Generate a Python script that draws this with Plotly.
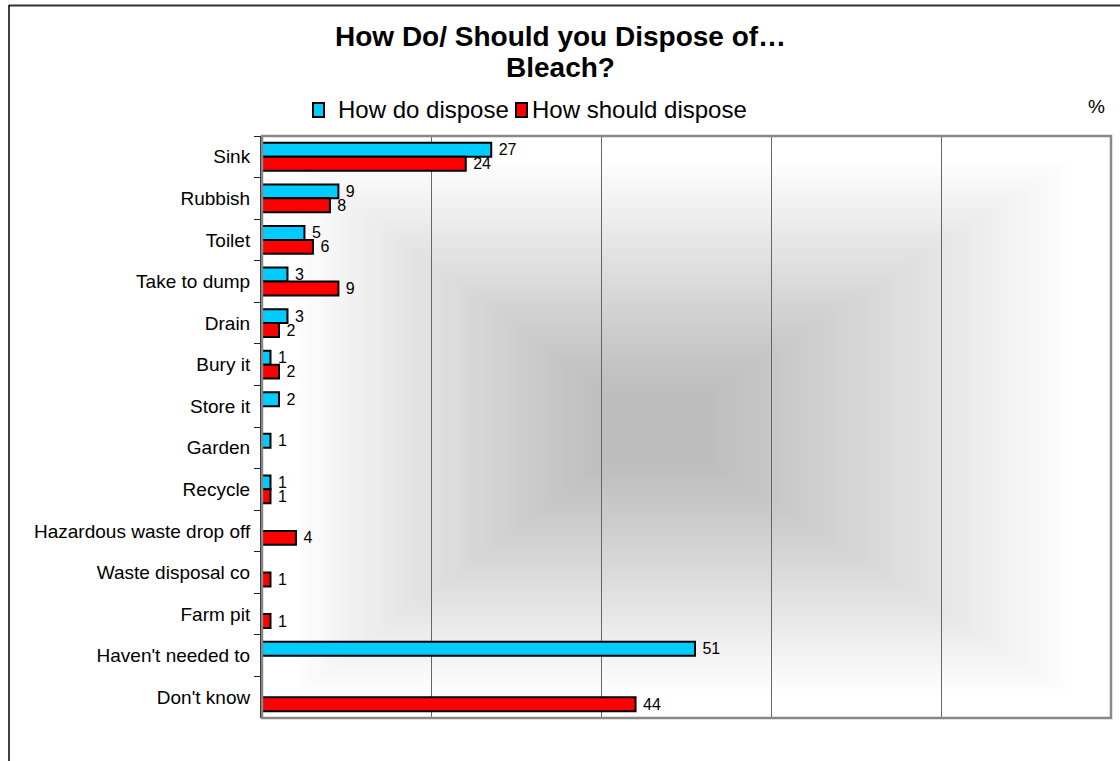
import base64, struct, zlib
import plotly.graph_objects as go

categories = ["Sink", "Rubbish", "Toilet", "Take to dump", "Drain", "Bury it", "Store it",
              "Garden", "Recycle", "Hazardous waste drop off", "Waste disposal co",
              "Farm pit", "Haven't needed to", "Don't know"]
how_do = [27, 9, 5, 3, 3, 1, 2, 1, 1, None, None, None, 51, None]
how_should = [24, 8, 6, 9, 2, 2, None, None, 1, 4, 1, 1, None, 44]
series_names = ["How do dispose", "How should dispose"]
series_colors = ["#00CCFF", "#FF0000"]
x_range = [0, 100]
x_grid_step = 20

# ---- background: rectangular "from centre" grey gradient as PNG ----
def gradient_png(w, h, cx=0.46, cy=0.5, dark=190):
    rows = []
    for j in range(h):
        fy = (j + 0.5) / h
        dy = abs(fy - cy) / (cy if fy < cy else 1 - cy)
        row = bytearray([0])
        for i in range(w):
            fx = (i + 0.5) / w
            dx = abs(fx - cx) / (cx if fx < cx else 1 - cx)
            t = max(dx, dy)
            f = min(max((t - 0.12) / 0.8, 0.0), 1.0)
            f = f ** 1.1
            row.append(int(round(dark + (255 - dark) * f)))
        rows.append(bytes(row))
    raw = b"".join(rows)
    def chunk(tag, data):
        c = struct.pack(">I", len(data)) + tag + data
        return c + struct.pack(">I", zlib.crc32(tag + data) & 0xffffffff)
    png = b"\x89PNG\r\n\x1a\n" + chunk(b"IHDR", struct.pack(">IIBBBBB", w, h, 8, 0, 0, 0, 0))
    png += chunk(b"IDAT", zlib.compress(raw, 9)) + chunk(b"IEND", b"")
    return "data:image/png;base64," + base64.b64encode(png).decode()

bg = gradient_png(424, 291)

FONT = "Liberation Sans, Arial, sans-serif"

def labels(vals):
    return [("" if v is None else "\u00a0" + str(v)) for v in vals]

fig = go.Figure()
for name, vals, col in zip(series_names, [how_do, how_should], series_colors):
    fig.add_trace(go.Bar(y=categories, x=vals, orientation="h", name=name,
                         marker=dict(color=col, line=dict(color="black", width=2)),
                         text=labels(vals), textposition="outside", cliponaxis=False,
                         constraintext="none",
                         textfont=dict(family=FONT, size=16, color="black"),
                         showlegend=False))

W, H = 1120, 761
L, R, T, B = 262, 9, 136, 43
pw, ph = W - L - R, H - T - B

def px(x):
    return (x - L) / pw

def py(y):
    return (H - B - y) / ph

shapes = [
    dict(type="rect", xref="paper", yref="paper", x0=0, x1=1, y0=0, y1=1,
         line=dict(color="#888888", width=2.5), layer="above"),
    dict(type="line", xref="paper", yref="paper", x0=px(9), x1=px(1125), y0=py(5.5), y1=py(5.5),
         line=dict(color="#333333", width=2)),
    dict(type="line", xref="paper", yref="paper", x0=px(9), x1=px(9), y0=py(5), y1=py(770),
         line=dict(color="black", width=1.5)),
]
annotations = [
    dict(text="<b>How Do/ Should you Dispose of…</b>", xref="paper", yref="paper",
         x=px(560), y=py(37), showarrow=False, xanchor="center", yanchor="middle",
         font=dict(family=FONT, size=28)),
    dict(text="<b>Bleach?</b>", xref="paper", yref="paper",
         x=px(560), y=py(68), showarrow=False, xanchor="center", yanchor="middle",
         font=dict(family=FONT, size=28)),
    dict(text="%", xref="paper", yref="paper", x=px(1096), y=py(107), showarrow=False,
         xanchor="center", yanchor="middle", font=dict(family=FONT, size=19)),
]
# manual legend (square swatch right next to the text)
leg_y = 110
for name, col, sx, tx in zip(series_names, series_colors, [313, 516], [336, 530]):
    shapes.append(dict(type="rect", xref="paper", yref="paper",
                       x0=px(sx), x1=px(sx + 11), y0=py(leg_y - 7), y1=py(leg_y + 7),
                       fillcolor=col, line=dict(color="black", width=2)))
    annotations.append(dict(text=name, xref="paper", yref="paper", x=px(tx), y=py(leg_y),
                            showarrow=False, xanchor="left", yanchor="middle",
                            font=dict(family=FONT, size=24)))

fig.update_layout(
    width=W, height=H,
    margin=dict(l=L, r=R, t=T, b=B),
    paper_bgcolor="white", plot_bgcolor="rgba(0,0,0,0)",
    barmode="group", bargap=0.33, bargroupgap=0,
    font=dict(family=FONT, color="black"),
    showlegend=False,
    xaxis=dict(range=x_range, dtick=x_grid_step, showticklabels=False, showgrid=True,
               gridcolor="#666666", gridwidth=1, zeroline=False, showline=False, ticks=""),
    yaxis=dict(categoryorder="array", categoryarray=categories, autorange="reversed",
               showline=True, linecolor="#222222", linewidth=2, ticks="outside",
               tickson="boundaries", ticklen=6, tickcolor="#222222", tickwidth=1,
               tickfont=dict(family=FONT, size=19), ticklabelstandoff=6, showgrid=False),
    images=[dict(source=bg, xref="x domain", yref="y domain", x=0, y=1, sizex=1, sizey=1,
                 xanchor="left", yanchor="top", sizing="stretch", layer="below")],
    annotations=annotations,
    shapes=shapes,
)

fig.write_html("out.html", config={"displayModeBar": False},
               post_script="document.body.style.margin='0px';")
